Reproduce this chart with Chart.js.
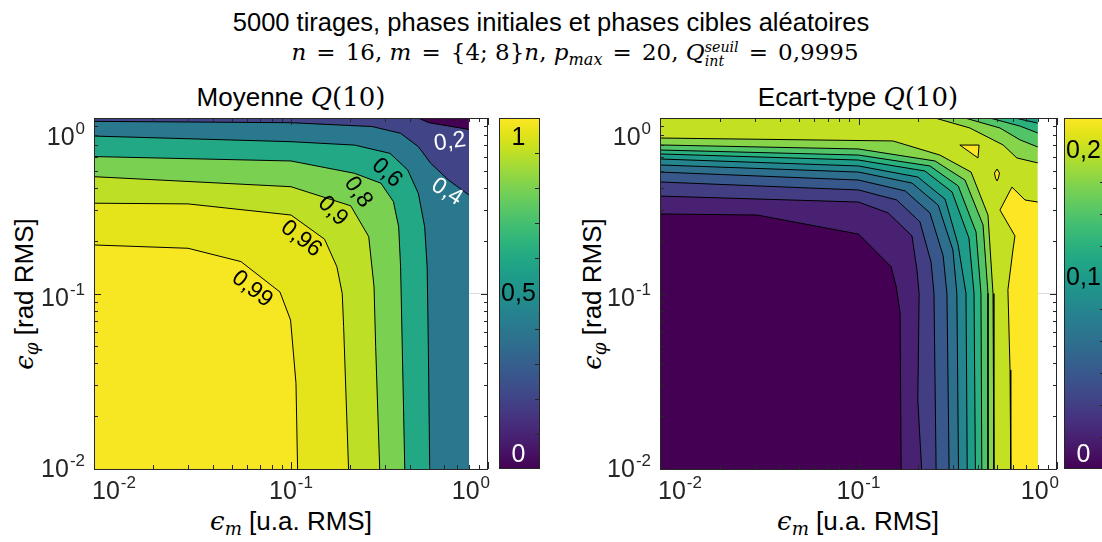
<!DOCTYPE html>
<html lang="fr">
<head>
<meta charset="utf-8">
<title>Q(10) - moyenne et ecart-type</title>
<script src="https://cdn.jsdelivr.net/npm/chart.js@4.4.1/dist/chart.umd.min.js"></script>
<style>
  html, body { margin: 0; padding: 0; background: #fff; }
  body { position: relative; width: 1102px; height: 542px; overflow: hidden;
         font-family: "Liberation Sans", Arial, sans-serif; color: #000; }
  canvas { position: absolute; }
  .txt { position: absolute; white-space: nowrap; line-height: 1; }
  .mi { font-family: "DejaVu Serif", "Liberation Serif", serif; font-style: italic; }
  .mr { font-family: "DejaVu Serif", "Liberation Serif", serif; }
  .sub { font-size: 0.7em; position: relative; top: 0.3em; }
  .eq { padding: 0 0.12em; }
  .stack { display: inline-block; vertical-align: middle; font-size: 0.62em; line-height: 1.0; text-align: left; }
  .stack span { display: block; }
</style>
</head>
<body>
<div class="txt" style="left:0;width:1102px;top:10px;text-align:center;font-size:25.5px;">5000 tirages, phases initiales et phases cibles aléatoires</div>
<div class="txt mr" style="left:575px;top:40px;transform:translateX(-50%);font-size:23px;"><span class="mi">n</span> <span class="eq">=</span> 16, <span class="mi">m</span> <span class="eq">=</span> {4; 8}<span class="mi">n</span>, <span class="mi">p</span><span class="mi sub">max</span> <span class="eq">=</span> 20, <span class="mi">Q</span><span class="stack mi"><span>seuil</span><span>int</span></span> <span class="eq">=</span> 0,9995</div>

<div class="txt" style="left:291px;top:84px;transform:translateX(-50%);font-size:26px;">Moyenne <span class="mi">Q</span><span class="mr">(10)</span></div>
<div class="txt" style="left:858px;top:84px;transform:translateX(-50%);font-size:26px;">Ecart-type <span class="mi">Q</span><span class="mr">(10)</span></div>

<div class="txt" style="left:291px;top:508px;transform:translateX(-50%);font-size:26px;"><span class="mi">ϵ</span><span class="mi sub">m</span> [u.a. RMS]</div>
<div class="txt" style="left:858px;top:508px;transform:translateX(-50%);font-size:26px;"><span class="mi">ϵ</span><span class="mi sub">m</span> [u.a. RMS]</div>
<div class="txt" style="left:24px;top:294px;transform:translate(-50%,-50%) rotate(-90deg);font-size:26px;"><span class="mi">ϵ</span><span class="mi sub">φ</span> [rad RMS]</div>
<div class="txt" style="left:592px;top:294px;transform:translate(-50%,-50%) rotate(-90deg);font-size:26px;"><span class="mi">ϵ</span><span class="mi sub">φ</span> [rad RMS]</div>

<canvas id="moy" width="498" height="452" style="left:0;top:90px;"></canvas>
<canvas id="moyCb" width="41" height="351" style="left:499px;top:118px;"></canvas>
<canvas id="ect" width="500" height="452" style="left:566px;top:90px;"></canvas>
<canvas id="ectCb" width="41" height="351" style="left:1064px;top:118px;"></canvas>

<script>
// ---- data (eps_m, eps_phi) ----
const decadeTicks = [0.01, 0.1, 1];
const gridX = [0.01, 0.8];   // extent of the simulated grid
const gridY = [0.01, 1.0];

// Moyenne Q(10): contour levels and their lines [eps_m, eps_phi]
const moyLevels = [0.2, 0.4, 0.6, 0.8, 0.9, 0.96, 0.99];
const moy020 = [[0.01, 1.0], [0.443, 1.0], [0.501, 0.94], [0.8, 0.861]];
const moy040 = [[0.01, 0.957], [0.1, 0.94], [0.258, 0.894], [0.36, 0.818], [0.443, 0.687], [0.512, 0.552], [0.63, 0.443], [0.8, 0.364]];
const moy060 = [[0.01, 0.789], [0.1, 0.733], [0.21, 0.701], [0.318, 0.629], [0.391, 0.506], [0.443, 0.372], [0.477, 0.24], [0.491, 0.142], [0.498, 0.0498], [0.506, 0.01]];
const moy080 = [[0.01, 0.603], [0.1, 0.569], [0.21, 0.484], [0.286, 0.425], [0.331, 0.334], [0.352, 0.24], [0.36, 0.142], [0.367, 0.0498], [0.378, 0.01]];
const moy090 = [[0.01, 0.463], [0.1, 0.406], [0.201, 0.316], [0.248, 0.211], [0.264, 0.109], [0.269, 0.0498], [0.282, 0.01]];
const moy096 = [[0.01, 0.327], [0.03, 0.324], [0.1, 0.28], [0.148, 0.204], [0.171, 0.142], [0.182, 0.1], [0.185, 0.0647], [0.196, 0.01]];
const moy099 = [[0.01, 0.189], [0.03, 0.181], [0.0557, 0.152], [0.0879, 0.102], [0.0995, 0.0706], [0.106, 0.0308], [0.108, 0.01]];
const moyLines = [moy020, moy040, moy060, moy080, moy090, moy096, moy099];
const moyLabelText = ['0,99', '0,96', '0,9', '0,8', '0,6', '0,4', '0,2'];
const moyLabelX = [0.0634, 0.1125, 0.163, 0.219, 0.307, 0.619, 0.641];
const moyLabelY = [0.106, 0.205, 0.295, 0.378, 0.486, 0.379, 0.730];

// Ecart-type Q(10)
const ectLevels = [0.02, 0.04, 0.06, 0.08, 0.1, 0.12, 0.14, 0.16, 0.18, 0.2, 0.22];
const ect002 = [[0.01, 0.284], [0.0308, 0.28], [0.1, 0.218], [0.146, 0.142], [0.155, 0.109], [0.162, 0.0774], [0.164, 0.01]];
const ect004 = [[0.01, 0.359], [0.1, 0.332], [0.141, 0.288], [0.186, 0.213], [0.197, 0.136], [0.202, 0.1], [0.199, 0.0247], [0.208, 0.01]];
const ect006 = [[0.01, 0.432], [0.1, 0.389], [0.156, 0.341], [0.204, 0.256], [0.232, 0.151], [0.24, 0.1], [0.246, 0.01]];
const ect008 = [[0.01, 0.492], [0.1, 0.443], [0.172, 0.384], [0.229, 0.288], [0.267, 0.164], [0.279, 0.1], [0.286, 0.01]];
const ect010 = [[0.01, 0.54], [0.1, 0.492], [0.186, 0.426], [0.252, 0.319], [0.299, 0.177], [0.313, 0.1], [0.319, 0.01]];
const ect012 = [[0.01, 0.584], [0.1, 0.533], [0.199, 0.461], [0.273, 0.345], [0.317, 0.191], [0.348, 0.1], [0.353, 0.01]];
const ect014 = [[0.01, 0.624], [0.1, 0.576], [0.216, 0.499], [0.296, 0.379], [0.36, 0.207], [0.382, 0.1], [0.388, 0.01]];
const ect016 = [[0.01, 0.657], [0.1, 0.615], [0.229, 0.533], [0.318, 0.41], [0.391, 0.224], [0.414, 0.1], [0.418, 0.01]];
const ect018 = [[0.01, 0.702], [0.1, 0.666], [0.243, 0.569], [0.344, 0.443], [0.424, 0.246], [0.449, 0.1], [0.449, 0.01]];
const ect020 = [[0.01, 0.769], [0.149, 0.74], [0.257, 0.615], [0.369, 0.492], [0.449, 0.28], [0.476, 0.1], [0.481, 0.01]];
const ectLines = [ect002, ect004, ect006, ect008, ect010, ect012, ect014, ect016, ect018, ect020];
// top-right corner (values fall again), levels 0.14 .. 0.2
const ectCornerLevels = [0.14, 0.16, 0.18, 0.2];
const ectC014 = [[0.614, 1.0], [0.8, 0.935]];
const ectC016 = [[0.459, 1.0], [0.652, 0.899], [0.8, 0.822]];
const ectC018 = [[0.344, 1.0], [0.516, 0.877], [0.652, 0.75], [0.8, 0.684]];
const ectC020 = [[0.243, 1.0], [0.364, 0.877], [0.535, 0.702], [0.628, 0.592], [0.8, 0.555]];
const ectCorner = [ectC014, ectC016, ectC018, ectC020];
// level 0.22: right column and two islands
const ect022 = [[0.8, 0.332], [0.69, 0.341], [0.593, 0.404], [0.516, 0.299], [0.614, 0.213], [0.6, 0.177], [0.566, 0.105], [0.58, 0.0367], [0.585, 0.01]];
const ect022Tri = [[0.324, 0.701], [0.405, 0.701], [0.4, 0.592], [0.324, 0.701]];
const ect022Dot = [[0.499, 0.512], [0.513, 0.486], [0.507, 0.455], [0.499, 0.438], [0.49, 0.455], [0.484, 0.486], [0.499, 0.512]];

// colour bars
const moyCbMax = 1;
const moyCbTicks = [0, 0.1, 0.2, 0.3, 0.4, 0.5, 0.6, 0.7, 0.8, 0.9, 1];
const moyCbLabels = [[0, '0'], [0.5, '0,5'], [1, '1']];
const ectCbMax = 0.22;
const ectCbTicks = [0, 0.02, 0.04, 0.06, 0.08, 0.1, 0.12, 0.14, 0.16, 0.18, 0.2, 0.22];
const ectCbLabels = [[0, '0'], [0.12, '0,1'], [0.2, '0,2']];

// ---- styling ----
const VIR = ['#440154','#471365','#482475','#463480','#414487','#3b528b','#355f8d','#2f6c8e','#2a788e','#25848e',
             '#21918c','#1e9c89','#22a884','#2fb47c','#44bf70','#5ec962','#7ad151','#9bd93c','#bddf26','#dfe318','#fde725'];
function hexRgb(h) { return [1, 3, 5].map(i => parseInt(h.substr(i, 2), 16)); }
function viridis(t) {
  t = Math.max(0, Math.min(1, t));
  const f = t * (VIR.length - 1), i = Math.min(Math.floor(f), VIR.length - 2), u = f - i;
  const a = hexRgb(VIR[i]), b = hexRgb(VIR[i + 1]);
  return 'rgb(' + [0, 1, 2].map(k => Math.round(a[k] + (b[k] - a[k]) * u)).join(',') + ')';
}
const AX = '#262626';
const FONT = '"Liberation Sans", Arial, sans-serif';
const moyLabelAngle = [38, 38, 45, 55, 42, 32, -8];
const moyLabelColor = ['#000', '#000', '#000', '#000', '#000', '#fff', '#fff'];

function pts(arr) { return arr.map(p => ({x: p[0], y: p[1]})); }
function area(arr, color, fill, stroke, extra) {
  return Object.assign({
    data: pts(arr), backgroundColor: color, fill: fill,
    borderColor: stroke ? '#000' : 'rgba(0,0,0,0)', borderWidth: 1,
    pointRadius: 0, pointHoverRadius: 0, tension: 0
  }, extra || {});
}
function ordered(list) {
  // first entry is painted first (bottom)
  list.forEach((d, i) => { d.order = list.length - i; });
  return list;
}

function drawPow(ctx, exp, x, base, align, lo, hi) {
  const big = '25px ' + FONT, small = '17px ' + FONT;
  ctx.font = big; const w1 = ctx.measureText('10').width;
  ctx.font = small; const w2 = ctx.measureText(exp).width;
  const w = w1 + 1 + w2;
  let x0 = align === 'right' ? x - w : x - w / 2;
  if (lo !== undefined) x0 = Math.max(lo, Math.min(hi - w, x0));
  ctx.textAlign = 'left'; ctx.textBaseline = 'alphabetic';
  ctx.font = big; ctx.fillText('10', x0, base);
  ctx.font = small; ctx.fillText(exp, x0 + w1 + 1, base - 11);
}

function axesPlugin(labels) {
  return {
    id: 'axesDeco',
    afterDraw(chart) {
      const {ctx, chartArea: a, scales: {x, y}} = chart;
      ctx.save();
      ctx.strokeStyle = AX; ctx.lineWidth = 1;
      ctx.beginPath();
      decadeTicks.forEach((d, k) => {
        const vals = [d];
        if (k < decadeTicks.length - 1) for (let m = 2; m <= 9; m++) vals.push(d * m);
        vals.forEach(v => {
          const len = v === d ? 7 : 4;
          const px = Math.round(x.getPixelForValue(v)) + 0.5;
          ctx.moveTo(px, a.bottom); ctx.lineTo(px, a.bottom - len);
          ctx.moveTo(px, a.top); ctx.lineTo(px, a.top + len);
          const py = Math.round(y.getPixelForValue(v)) + 0.5;
          ctx.moveTo(a.left, py); ctx.lineTo(a.left + len, py);
          ctx.moveTo(a.right, py); ctx.lineTo(a.right - len, py);
        });
      });
      ctx.stroke();
      ctx.strokeRect(Math.round(a.left) + 0.5, Math.round(a.top) + 0.5, Math.round(a.right - a.left) - 1, Math.round(a.bottom - a.top));
      // tick labels
      ctx.fillStyle = AX;
      decadeTicks.forEach(v => {
        const e = String(Math.round(Math.log10(v)));
        drawPow(ctx, e, x.getPixelForValue(v), a.bottom + 30, 'center', a.left - 2, a.right + 2);
        const base = Math.max(a.top + 27, Math.min(a.bottom + 8, y.getPixelForValue(v) + 12));
        drawPow(ctx, e, a.left - 9, base, 'right');
      });
      // contour labels
      if (labels) {
        ctx.font = '23px ' + FONT; ctx.textAlign = 'center'; ctx.textBaseline = 'middle';
        labels.text.forEach((t, i) => {
          ctx.save();
          ctx.translate(x.getPixelForValue(labels.x[i]), y.getPixelForValue(labels.y[i]));
          ctx.rotate(labels.angle[i] * Math.PI / 180);
          ctx.fillStyle = labels.color[i];
          ctx.fillText(t, 0, 0);
          ctx.restore();
        });
      }
      ctx.restore();
    }
  };
}

function logAxis(pos) {
  return {
    type: 'logarithmic', position: pos, min: gridY[0], max: 1, z: 1,
    afterBuildTicks: s => { s.ticks = decadeTicks.map(v => ({value: v})); },
    ticks: {display: false},
    grid: {drawTicks: false, lineWidth: 1,
           color: c => (c.tick && Math.abs(c.tick.value - 0.1) < 1e-9) ? 'rgba(38,38,38,0.16)' : 'rgba(0,0,0,0)'},
    border: {display: false}
  };
}

function mainChart(id, datasets, pad, labels) {
  return new Chart(document.getElementById(id), {
    type: 'line',
    data: {datasets: datasets},
    options: {
      responsive: false, animation: false, events: [], devicePixelRatio: 1,
      layout: {padding: pad},
      plugins: {legend: {display: false}, tooltip: {enabled: false}, filler: {propagate: false}},
      scales: {x: logAxis('bottom'), y: logAxis('left')}
    },
    plugins: [axesPlugin(labels)]
  });
}

function colorBar(id, max, ticks, labels, labelColors) {
  const labelled = labels.map(l => l[0]);
  return new Chart(document.getElementById(id), {
    type: 'bar',
    data: {labels: [''], datasets: [{
      data: [max], barPercentage: 1, categoryPercentage: 1, borderWidth: 0,
      backgroundColor: c => {
        const a = c.chart.chartArea;
        if (!a) return VIR[0];
        const g = c.chart.ctx.createLinearGradient(0, a.bottom, 0, a.top);
        VIR.forEach((col, i) => g.addColorStop(i / (VIR.length - 1), col));
        return g;
      }
    }]},
    options: {
      responsive: false, animation: false, events: [], devicePixelRatio: 1,
      layout: {padding: 0},
      plugins: {legend: {display: false}, tooltip: {enabled: false}},
      scales: {x: {display: false}, y: {display: false, min: 0, max: max}}
    },
    plugins: [{
      id: 'cbDeco',
      afterDraw(chart) {
        const {ctx, chartArea: a, scales: {y}} = chart;
        ctx.save();
        ctx.strokeStyle = AX; ctx.lineWidth = 1;
        ctx.beginPath();
        ticks.forEach(v => {
          if (labelled.some(l => Math.abs(l - v) < 1e-9)) return;
          const py = Math.round(y.getPixelForValue(v)) + 0.5;
          ctx.moveTo(a.right, py); ctx.lineTo(a.right - 5, py);
        });
        ctx.stroke();
        ctx.strokeRect(a.left + 0.5, a.top + 0.5, a.right - a.left - 1, a.bottom - a.top - 1);
        ctx.font = '25px ' + FONT; ctx.textAlign = 'center'; ctx.textBaseline = 'middle';
        labels.forEach(([v, t], i) => {
          const py = Math.max(a.top + 19, Math.min(a.bottom - 15, y.getPixelForValue(v)));
          ctx.fillStyle = labelColors[i];
          ctx.fillText(t, (a.left + a.right) / 2 - 1, py + 1);
        });
        ctx.restore();
      }
    }]
  });
}

// ---- left panel: paint from lowest band up ----
const gridRect = [[gridX[0], gridY[1]], [gridX[1], gridY[1]]];
const moySets = [area(gridRect, viridis(0), 'start', false)];
moyLines.forEach((ln, i) => moySets.push(area(ln, viridis(moyLevels[i] / moyCbMax), 'start', true)));
mainChart('moy', ordered(moySets), {left: 94, right: 10, top: 28, bottom: 73}, {
  text: moyLabelText, x: moyLabelX, y: moyLabelY, angle: moyLabelAngle, color: moyLabelColor
});
colorBar('moyCb', moyCbMax, moyCbTicks, moyCbLabels, ['#fff', '#000', '#000']);

// ---- right panel ----
const ectTop = ectLevels[ectLevels.length - 1];
const ectSets = [area(gridRect, viridis(0.2 / ectCbMax), 'start', false)];
// corner: region above each line holds the band just below that level
for (let i = ectCorner.length - 1; i >= 0; i--) {
  ectSets.push(area(ectCorner[i], viridis((ectCornerLevels[i] - 0.02) / ectCbMax), 'end', true));
}
// >= 0.22 column: filled polygon closed on the grid corner, then its contour line
ectSets.push(area(ect022.concat([[gridX[1], gridY[0]]]), viridis(ectTop / ectCbMax), 'shape', false, {clip: false}));
ectSets.push(area(ect022, 'rgba(0,0,0,0)', false, true));
ectSets.push(area(ect022Tri, viridis(ectTop / ectCbMax), 'shape', true, {clip: false}));
ectSets.push(area(ect022Dot, viridis(ectTop / ectCbMax), 'shape', true, {clip: false}));
for (let i = ectLines.length - 1; i >= 0; i--) {
  ectSets.push(area(ectLines[i], viridis((ectLevels[i] - 0.02) / ectCbMax), 'start', true));
}
mainChart('ect', ordered(ectSets), {left: 94, right: 9, top: 28, bottom: 73}, null);
colorBar('ectCb', ectCbMax, ectCbTicks, ectCbLabels, ['#fff', '#000', '#000']);
</script>
</body>
</html>
